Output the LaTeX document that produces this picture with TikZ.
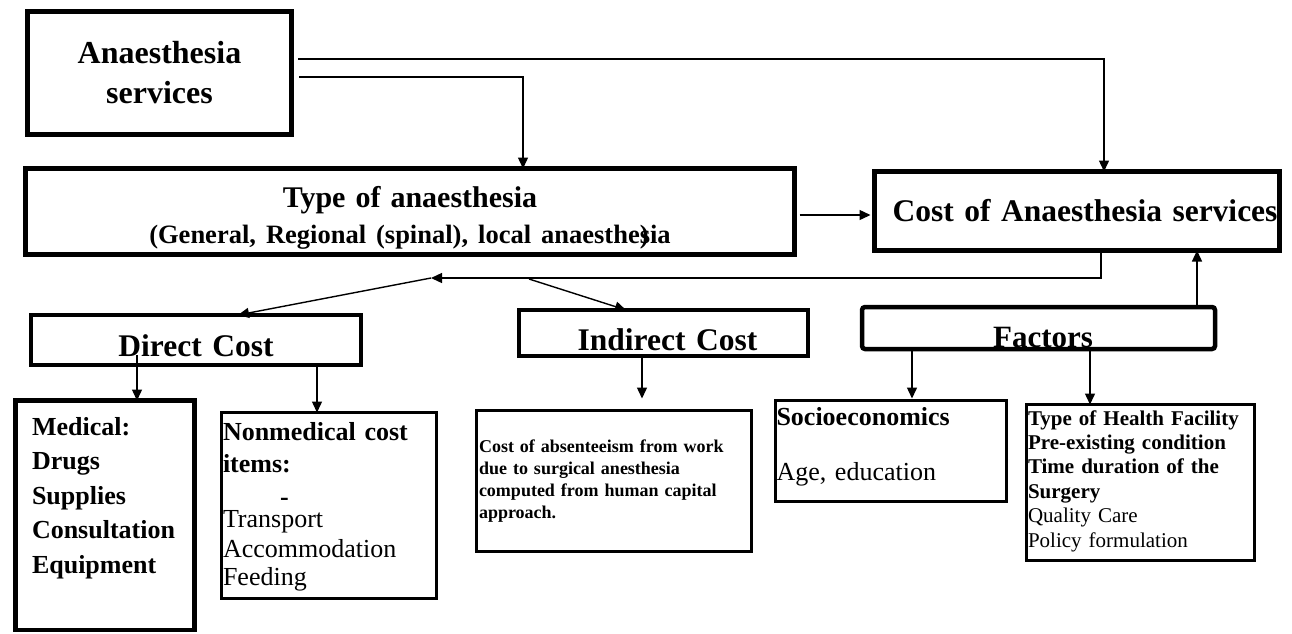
\documentclass[tikz,border=0pt]{standalone}
\usepackage{fontspec}
\setmainfont{Liberation Serif}
\usetikzlibrary{positioning}
\usetikzlibrary{calc}
\usetikzlibrary{arrows.meta}
\tikzset{
	box/.style={draw, rectangle, anchor=north west, align=left, inner ysep=0pt, outer sep=0pt},
	heavy/.style={box, line width=4.5pt},
	light/.style={box, line width=3pt},
	arr/.style={-{Triangle[length=11pt,width=10pt]}, line width=1.4pt},
	plain/.style={line width=1.4pt}
}

\begin{document}
\begin{tikzpicture}[x=1pt, y=-1pt]
	\useasboundingbox (0,0) rectangle (1292,633);

	% top boxes
	\node (anaes) [heavy, align=center, inner xsep=5pt, text width=254pt, text height=51.5pt, text depth=71.5pt,
		font=\bfseries\fontsize{32}{40}\selectfont] at (27.5,11.5) {Anaesthesia\\services};
	\node (type) [heavy, align=center, inner xsep=5pt, text width=759pt, text height=38.5pt, text depth=47.5pt,
		font=\bfseries\fontsize{30}{36}\selectfont] at (25.5,168.5)
		{Type of anaesthesia\\{\fontsize{26.5}{36}\selectfont (General, Regional (spinal), local anaesthe\rlap{)}sia}};
	\node (cost) [heavy, align=right, inner xsep=2pt, text width=401pt, text height=49.5pt, text depth=29.5pt,
		font=\bfseries\fontsize{31.5}{38}\selectfont] at (874.5,171.5) {Cost of Anaesthesia services};

	% cost groups
	\node (dc) [heavy, align=center, inner xsep=5pt, text width=320pt, text height=41pt, text depth=9pt,
		font=\bfseries\fontsize{31.5}{36}\selectfont] at (31,315) {Direct Cost};
	\node (ic) [heavy, align=center, inner xsep=5pt, text width=279pt, text height=40pt, text depth=6pt,
		font=\bfseries\fontsize{31.5}{36}\selectfont] at (519,310) {\hspace*{8pt}Indirect Cost};
	\node (fac) [heavy, rounded corners=3pt, align=center, inner xsep=5pt, text width=343pt, text height=40pt, text depth=2pt,
		font=\bfseries\fontsize{31}{36}\selectfont] at (862,307) {\hspace*{9pt}Factors};

	% items
	\node (med) [heavy, inner xsep=16.5pt, text width=146pt, text height=34.5pt, text depth=195pt,
		font=\bfseries\fontsize{26}{34.5}\selectfont] at (15.5,400.5)
		{Medical:\\Drugs\\Supplies\\Consultation\\Equipment};
	\node (nonmed) [light, line width=3.5pt, inner xsep=1.5pt, text width=212pt, text height=27.5pt, text depth=158.5pt,
		font=\fontsize{26}{30}\selectfont] at (221.5,412.5)
		{\textbf{Nonmedical cost}\\[2pt]\textbf{items:}\\[3pt]\hspace*{57pt}\textbf{-}\\[-8pt]Transport\\Accommodation\\[-2pt]Feeding};
	\node (abs) [light, line width=3.5pt, inner xsep=2.5pt, text width=270pt, text height=41.5pt, text depth=99.5pt,
		font=\bfseries\fontsize{18}{22}\selectfont] at (476.5,410.5)
		{Cost of absenteeism from work\\due to surgical anesthesia\\computed from human capital\\approach.};
	\node (soc) [light, inner xsep=1pt, text width=229pt, text height=24.5pt, text depth=76.5pt,
		font=\fontsize{26}{26}\selectfont] at (775.5,400.5)
		{\textbf{Socioeconomics}\\[29pt]Age, education};
	\node (hf) [light, inner xsep=1.5pt, text width=225pt, text height=20.5pt, text depth=135.5pt,
		font=\fontsize{21}{24.4}\selectfont] at (1026.5,404.5)
		{\textbf{Type of Health Facility}\\\textbf{Pre-existing condition}\\\textbf{Time duration of the}\\\textbf{Surgery}\\Quality Care\\Policy formulation};

	% branch points
	\coordinate (a1) at (298,59);
	\coordinate (a2) at (299,77);
	\coordinate (split) at (431,278);
	\coordinate (split2) at (529,279);

	\draw[arr] (a1) -| ([xshift=27pt]cost.north);
	\draw[arr] (a2) -| ([xshift=113pt]type.north);
	\draw[arr, shorten <=5pt, shorten >=4pt] ([yshift=-3.5pt]type.east) -- ([yshift=-3.5pt]type.east -| cost.west);
	\draw[arr] ([xshift=24pt]cost.south) |- (split);
	\draw[arr] (split) -- ([xshift=42pt]dc.north);
	\draw[arr] (split2) -- ([xshift=-37.5pt]ic.north);
	\draw[arr] ([xshift=-59pt,yshift=10pt]dc.south) -- (med.north -| {$(dc.south)+(-59,0)$});
	\draw[arr] ([xshift=121pt]dc.south) -- (nonmed.north -| {$(dc.south)+(121,0)$});
	\draw[arr, shorten >=12pt] ([xshift=-21.5pt]ic.south) -- (abs.north -| {$(ic.south)+(-21.5,0)$});
	\draw[arr, shorten >=2pt] ([xshift=-126.5pt]fac.south) -- (soc.north -| {$(fac.south)+(-126.5,0)$});
	\draw[arr] ([xshift=51.5pt]fac.south) -- (hf.north -| {$(fac.south)+(51.5,0)$});
	\draw[arr] ([xshift=158.5pt]fac.north) -- (cost.south -| {$(fac.north)+(158.5,0)$});
\end{tikzpicture}
\end{document}
